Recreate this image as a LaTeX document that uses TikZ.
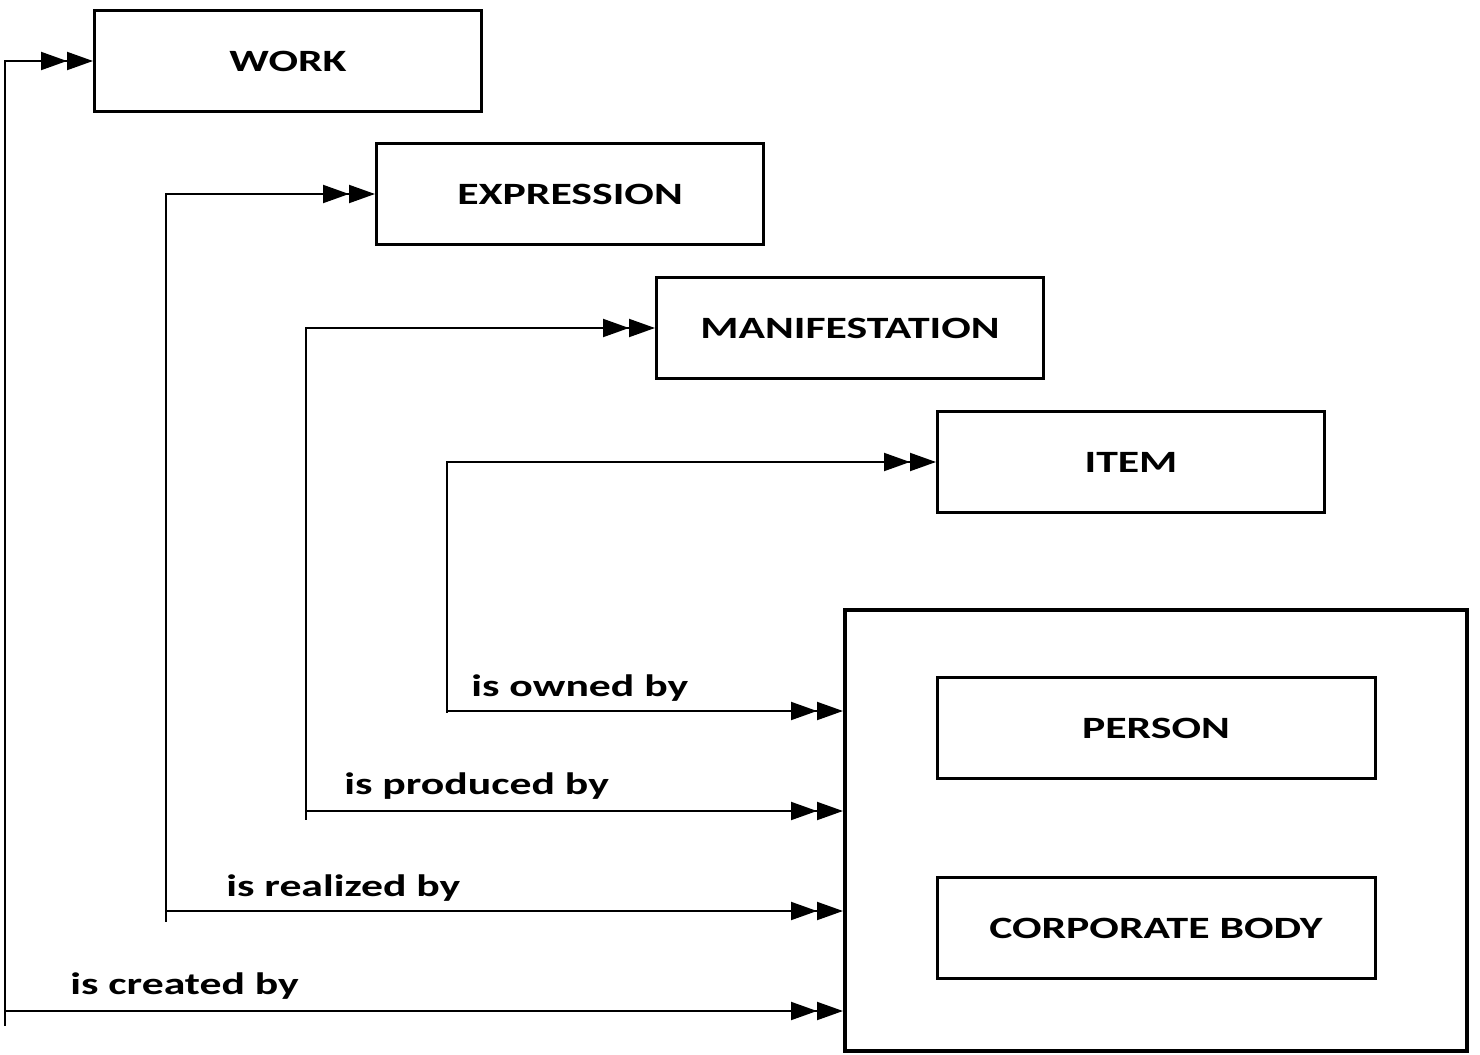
\documentclass[tikz,border=0pt]{standalone}
\usepackage{fontspec}
\setmainfont{Carlito}[FakeStretch=1.41]
\usetikzlibrary{arrows.meta,calc}

\begin{document}
\begin{tikzpicture}[x=0.5pt,y=-0.5pt,>={Triangle[length=13pt,width=9pt,sep=0pt]Triangle[length=13pt,width=9pt]}]
    \tikzstyle{ent}=[draw=black, line width=1.5pt, minimum width=387*0.5pt, minimum height=101*0.5pt, inner sep=0pt, font=\bfseries\fontsize{15.5}{18}\selectfont]
    \tikzstyle{rel}=[line width=1pt]
    \tikzstyle{lbl}=[anchor=base west, inner sep=0pt, font=\bfseries\fontsize{15.5}{18}\selectfont]
    \useasboundingbox (0,0) rectangle (1480,1055);
    \node[ent] (W) at (288,61) {WORK};
    \node[ent] (E) at (570,194) {EXPRESSION};
    \node[ent] (M) at (850,328) {MANIFESTATION};
    \node[ent] (I) at (1131,462) {ITEM};
    \node[draw=black, line width=2pt, minimum width=622*0.5pt, minimum height=441*0.5pt] (A) at (1156,830.5) {};
    \node[ent, minimum width=438*0.5pt] (P) at (1156,728) {PERSON};
    \node[ent, minimum width=438*0.5pt] (C) at (1156,928) {CORPORATE BODY};
    \coordinate (c0) at (5,1011);
    \coordinate (c1) at (166,911);
    \coordinate (c2) at (306,811);
    \coordinate (c3) at (447,711);
    \draw[rel] (c0) -- +(0,15);
    \draw[rel] (c1) -- +(0,11);
    \draw[rel] (c2) -- +(0,9);
    \draw[rel] (c3) -- +(0,2);
    \draw[rel,->] (c0) |- (W.west);
    \draw[rel,->] (c1) |- (E.west);
    \draw[rel,->] (c2) |- (M.west);
    \draw[rel,->] (c3) |- (I.west);
    \draw[rel,->] (c0) -- (c0 -| A.west);
    \draw[rel,->] (c1) -- (c1 -| A.west);
    \draw[rel,->] (c2) -- (c2 -| A.west);
    \draw[rel,->] (c3) -- (c3 -| A.west);
    \node[lbl] at ($(c0)+(65,-17)$) {is created by};
    \node[lbl] at ($(c1)+(60,-15)$) {is realized by};
    \node[lbl] at ($(c2)+(38,-17)$) {is produced by};
    \node[lbl] at ($(c3)+(24,-15)$) {is owned by};
\end{tikzpicture}
\end{document}
